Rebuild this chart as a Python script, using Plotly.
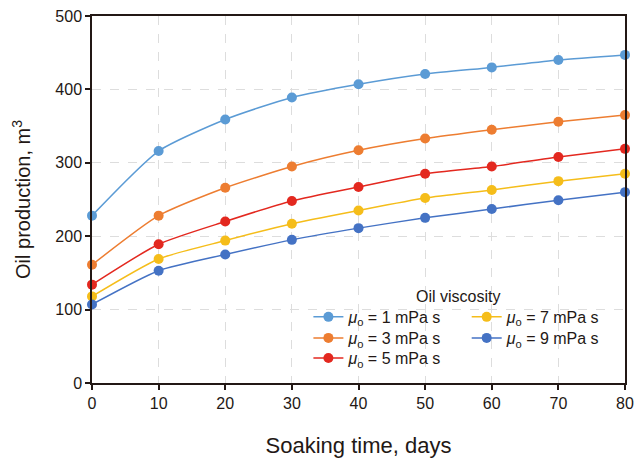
import plotly.graph_objects as go

days = [0, 10, 20, 30, 40, 50, 60, 70, 80]
visc_1 = [228, 316, 359, 389, 407, 421, 430, 440, 447]
visc_3 = [161, 228, 266, 295, 317, 333, 345, 356, 365]
visc_5 = [134, 189, 220, 248, 267, 285, 295, 308, 319]
visc_7 = [118, 169, 194, 217, 235, 252, 263, 275, 285]
visc_9 = [107, 153, 175, 195, 211, 225, 237, 249, 260]

names = ["1", "3", "5", "7", "9"]
series = [visc_1, visc_3, visc_5, visc_7, visc_9]
colors = ["#5b9bd5", "#ed7d31", "#e3281f", "#f5bd1a", "#4472c4"]
legend_ids = ["legend", "legend2", "legend3", "legend4", "legend5"]
# legend placement (paper coords): column x, row y
legend_pos = [(0.406, 0.180), (0.406, 0.1226), (0.406, 0.068),
              (0.703, 0.180), (0.703, 0.1226)]

fig = go.Figure()
for n, s, c, lg in zip(names, series, colors, legend_ids):
    fig.add_trace(go.Scatter(
        x=days, y=s, mode="lines+markers",
        name=f"<i>μ</i><sub>o</sub> = {n} mPa s",
        line=dict(color=c, width=1.5, shape="spline", smoothing=0.6),
        marker=dict(color=c, size=10),
        cliponaxis=False, legend=lg,
    ))

font_family = "Liberation Sans, Arial, sans-serif"
axis_common = dict(
    showline=True, linecolor="#231815", linewidth=1.5, mirror=True,
    ticks="outside", ticklen=5, tickcolor="#231815", tickwidth=1.5,
    showgrid=True, gridcolor="#dddddd", griddash="dash", gridwidth=1,
    zeroline=False, tickfont=dict(size=16, color="#231815", family=font_family),
)

legend_layout = {}
for lg, (lx, ly) in zip(legend_ids, legend_pos):
    legend_layout[lg] = dict(x=lx, y=ly, xanchor="left", yanchor="middle",
                             bgcolor="rgba(0,0,0,0)", font=dict(size=16),
                             itemwidth=30)

fig.update_layout(
    width=635, height=462,
    margin=dict(l=92, r=8, t=16, b=79),
    paper_bgcolor="white", plot_bgcolor="white",
    font=dict(family=font_family, color="#231815"),
    xaxis=dict(range=[0, 80], dtick=10, tick0=0, automargin=False,
               title=dict(text="Soaking time, days", font=dict(size=22), standoff=27),
               **axis_common),
    yaxis=dict(range=[0, 500], dtick=100, tick0=0,
               title=dict(text="Oil production, m<sup>3</sup>", font=dict(size=20), standoff=19),
               **axis_common),
    showlegend=True,
    annotations=[dict(text="Oil viscosity", x=0.686, y=0.237, xref="paper", yref="paper",
                      xanchor="center", yanchor="middle", showarrow=False,
                      font=dict(size=16, color="#231815"))],
    **legend_layout,
)

fig.write_html("out.html")
